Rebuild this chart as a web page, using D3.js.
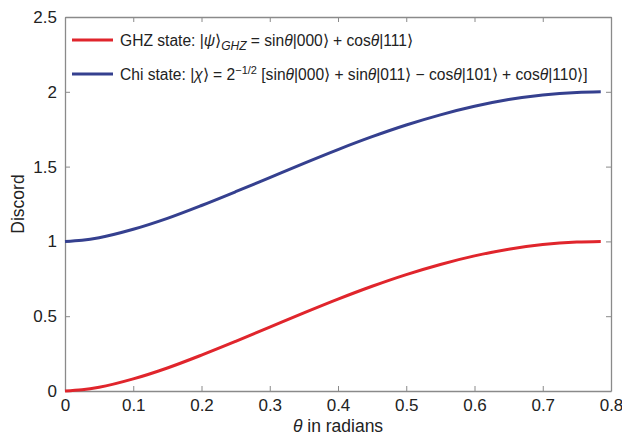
<!DOCTYPE html>
<html>
<head>
<meta charset="utf-8">
<script src="https://cdn.jsdelivr.net/npm/d3@7"></script>
<style>
  body { margin: 0; background: #fff; }
  svg text { font-family: "Liberation Sans", Arial, sans-serif; fill: #222; }
</style>
</head>
<body>
<svg id="myCanvas" width="622" height="435"></svg>
<script>
const width = 622;
const height = 435;
const margin = { top: 17, right: 11, bottom: 44, left: 65 };

// theta values (radians) read along the x axis
const theta = [0, 0.025, 0.05, 0.1, 0.15, 0.2, 0.25, 0.3, 0.35, 0.4, 0.45, 0.5, 0.55, 0.6, 0.65, 0.7, 0.75, 0.785];
// discord
const ghzDiscord = [0, 0.008, 0.025, 0.081, 0.154, 0.240, 0.332, 0.427, 0.522, 0.614, 0.700, 0.778, 0.846, 0.903, 0.948, 0.979, 0.996, 1.0];
const chiDiscord = [1.0, 1.008, 1.025, 1.081, 1.154, 1.240, 1.332, 1.427, 1.522, 1.614, 1.700, 1.778, 1.846, 1.903, 1.948, 1.979, 1.996, 2.0];
const xTicks = [0, 0.1, 0.2, 0.3, 0.4, 0.5, 0.6, 0.7, 0.8];
const yTicks = [0, 0.5, 1, 1.5, 2, 2.5];

const red = "#e0252c";
const blue = "#35408f";

const svg = d3.select("#myCanvas");

const x = d3.scaleLinear().domain([0, 0.8]).range([margin.left, width - margin.right]);
const y = d3.scaleLinear().domain([0, 2.5]).range([height - margin.bottom, margin.top]);

const axisColor = "#8a8a8a";
function styleAxis(g) {
  g.select(".domain").attr("stroke", axisColor).attr("stroke-width", 1.3);
  g.selectAll(".tick line").attr("stroke", axisColor);
  g.selectAll(".tick text").style("font-size", "17px").attr("fill", "#222");
}

// bottom and left axes with ticks pointing inward
svg.append("g")
  .attr("transform", `translate(0, ${y(0)})`)
  .call(d3.axisBottom(x).tickValues(xTicks).tickFormat(d => d === 0 ? "0" : d3.format(".1f")(d)).tickSizeInner(-5).tickSizeOuter(0).tickPadding(8))
  .call(styleAxis);

svg.append("g")
  .attr("transform", `translate(${x(0)}, 0)`)
  .call(d3.axisLeft(y).tickValues(yTicks).tickFormat(d => d3.format("")(d)).tickSizeInner(-5).tickSizeOuter(0).tickPadding(8))
  .call(styleAxis);

// top and right axes, ticks only
svg.append("g")
  .attr("transform", `translate(0, ${y(2.5)})`)
  .call(d3.axisTop(x).tickValues(xTicks).tickFormat("").tickSizeInner(-5).tickSizeOuter(0))
  .call(styleAxis);

svg.append("g")
  .attr("transform", `translate(${x(0.8)}, 0)`)
  .call(d3.axisRight(y).tickValues(yTicks).tickFormat("").tickSizeInner(-5).tickSizeOuter(0))
  .call(styleAxis);

// curves
const line = d3.line()
  .x((d, i) => x(theta[i]))
  .y(d => y(d))
  .curve(d3.curveMonotoneX);

svg.append("path")
  .datum(chiDiscord)
  .attr("fill", "none")
  .attr("stroke", blue)
  .attr("stroke-width", 3)
  .attr("d", line);

svg.append("path")
  .datum(ghzDiscord)
  .attr("fill", "none")
  .attr("stroke", red)
  .attr("stroke-width", 3)
  .attr("d", line);

// legend
const legend = svg.append("g").style("font-size", "15.6px");
legend.append("line").attr("x1", 72).attr("x2", 113).attr("y1", 40).attr("y2", 40)
  .attr("stroke", red).attr("stroke-width", 3);
legend.append("line").attr("x1", 72).attr("x2", 113).attr("y1", 74).attr("y2", 74)
  .attr("stroke", blue).attr("stroke-width", 3);

const t1 = legend.append("text").attr("x", 120).attr("y", 46);
t1.append("tspan").text("GHZ state: |");
t1.append("tspan").style("font-style", "italic").text("ψ");
t1.append("tspan").text("⟩");
t1.append("tspan").style("font-style", "italic").style("font-size", "12px").attr("dy", 4).text("GHZ");
t1.append("tspan").attr("dy", -4).text(" = sin");
t1.append("tspan").style("font-style", "italic").text("θ");
t1.append("tspan").text("|000⟩ + cos");
t1.append("tspan").style("font-style", "italic").text("θ");
t1.append("tspan").text("|111⟩");

const t2 = legend.append("text").attr("x", 120).attr("y", 80);
t2.append("tspan").text("Chi state: |");
t2.append("tspan").style("font-style", "italic").text("χ");
t2.append("tspan").text("⟩ = 2");
t2.append("tspan").style("font-size", "11px").attr("dy", -6).text("−1/2");
t2.append("tspan").attr("dy", 6).text(" [sin");
t2.append("tspan").style("font-style", "italic").text("θ");
t2.append("tspan").text("|000⟩ + sin");
t2.append("tspan").style("font-style", "italic").text("θ");
t2.append("tspan").text("|011⟩ − cos");
t2.append("tspan").style("font-style", "italic").text("θ");
t2.append("tspan").text("|101⟩ + cos");
t2.append("tspan").style("font-style", "italic").text("θ");
t2.append("tspan").text("|110⟩]");

// axis titles
const xl = svg.append("text")
  .attr("x", (x(0) + x(0.8)) / 2)
  .attr("y", 432)
  .attr("text-anchor", "middle")
  .style("font-size", "17.5px");
xl.append("tspan").style("font-style", "italic").text("θ");
xl.append("tspan").text(" in radians");

svg.append("text")
  .attr("transform", `translate(24, ${(y(0) + y(2.5)) / 2}) rotate(-90)`)
  .attr("text-anchor", "middle")
  .style("font-size", "17.5px")
  .text("Discord");
</script>
</body>
</html>
